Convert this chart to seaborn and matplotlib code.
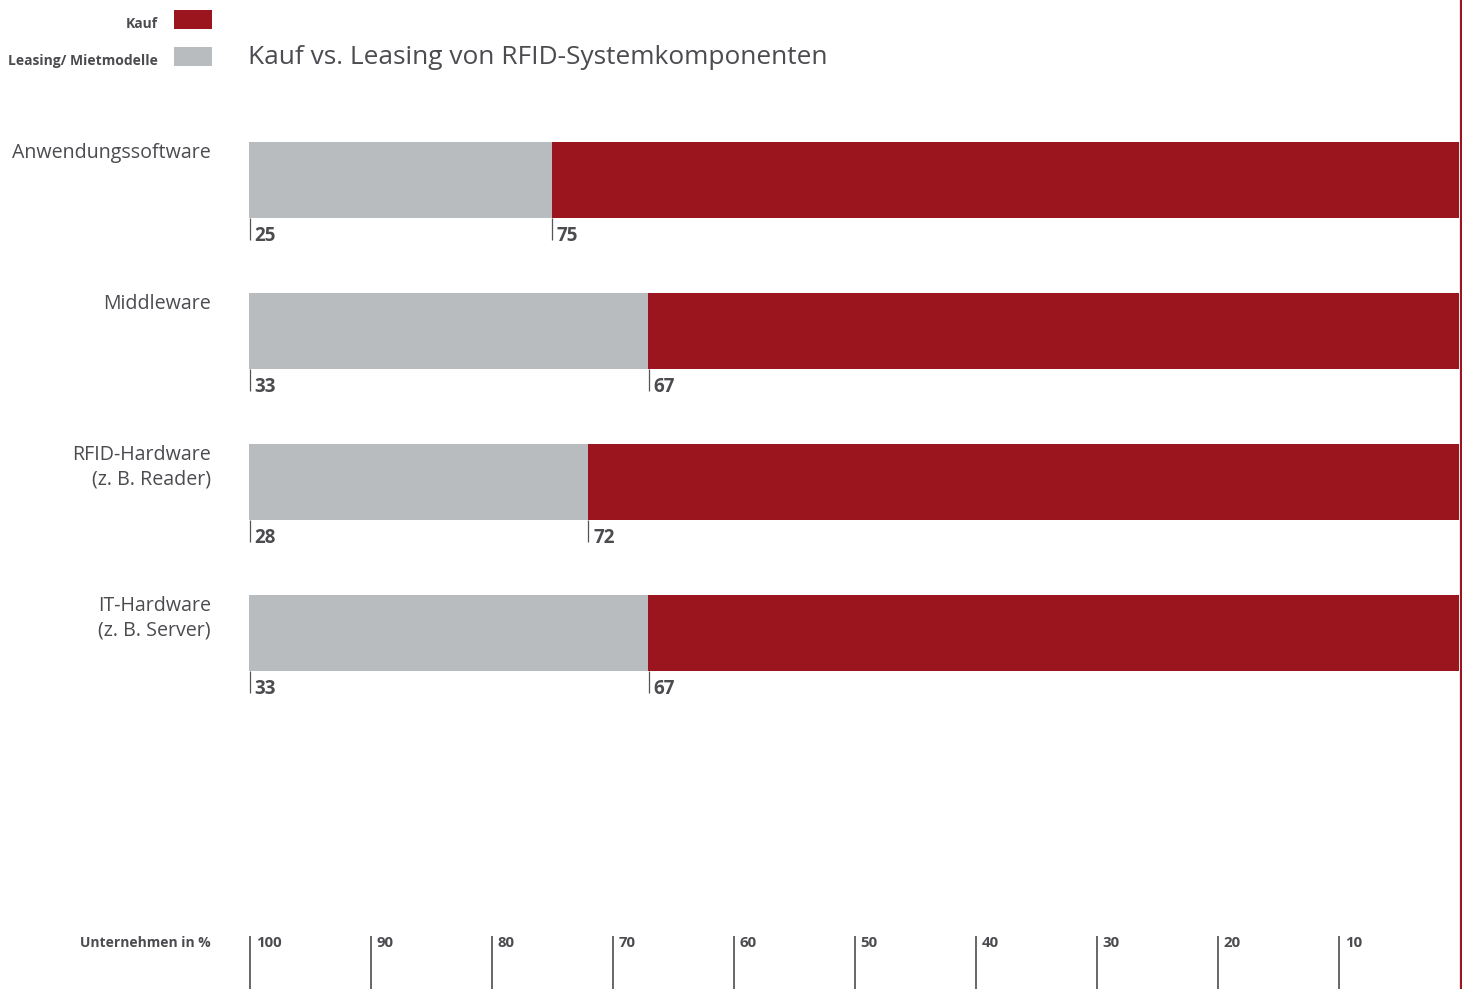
import matplotlib
matplotlib.use("Agg")
import matplotlib.pyplot as plt
import matplotlib.transforms as mtrans
import seaborn as sns
import pandas as pd

categories = ["Anwendungssoftware", "Middleware", "RFID-Hardware\n(z. B. Reader)", "IT-Hardware\n(z. B. Server)"]
leasing = [25, 33, 28, 33]
kauf = [75, 67, 72, 67]
axis_ticks = [0, 10, 20, 30, 40, 50, 60, 70, 80, 90]
axis_labels = ["100", "90", "80", "70", "60", "50", "40", "30", "20", "10"]
title = "Kauf vs. Leasing von RFID-Systemkomponenten"
legend_labels = ["Kauf", "Leasing/ Mietmodelle"]
axis_title = "Unternehmen in %"

RED = "#9b151e"
GRAY = "#b8bcbf"
TXT = "#4b4b50"

sns.set_theme(style="white")
plt.rcParams["font.family"] = ["Open Sans", "DejaVu Sans"]

W, H = 1462, 989
fig = plt.figure(figsize=(W / 100, H / 100), dpi=100)

def fx(x):
    return x / W

def fy(y):
    return 1 - y / H

# axes: x pixel 249..1459, y pixel 110..989
top_px, bot_px = 110, 989
ax = fig.add_axes([fx(249), fy(bot_px), fx(1459) - fx(249), fy(top_px) - fy(bot_px)])

df = pd.DataFrame({"cat": categories, "leasing": leasing, "kauf": kauf})
df["total"] = df["leasing"] + df["kauf"]

bw = 76 / 151
sns.barplot(data=df, x="total", y="cat", color=RED, width=bw, saturation=1, ax=ax, orient="h",
            linewidth=0, edgecolor="none")
sns.barplot(data=df, x="leasing", y="cat", color=GRAY, width=bw, saturation=1, ax=ax, orient="h",
            linewidth=0, edgecolor="none")

c0, step = 180, 151
def dy(ypx):
    return (ypx - c0) / step

ax.set_xlim(0, 100)
ax.set_ylim(dy(bot_px), dy(top_px))
ax.set_xticks([])
ax.set_yticks([])
ax.set_xlabel("")
ax.set_ylabel("")
for s in ax.spines.values():
    s.set_visible(False)
ax.patch.set_alpha(0)

# value labels under bars
for i, (l, k) in enumerate(zip(leasing, kauf)):
    ybot = i + bw / 2
    for xv, lab in [(0, l), (l, k)]:
        ax.vlines(xv + 0.05, ybot, ybot + 22 / step, color="#555555", lw=0.9)
        ax.text(xv + 0.45, ybot + 18 / step, str(lab), ha="left", va="center",
                fontsize=13.5, fontweight="bold", color=TXT)

# category labels
bt = mtrans.blended_transform_factory(fig.transFigure, ax.transData)
for i, c in enumerate(categories):
    ax.text(fx(211), i - bw / 2 + 1 / step, c, transform=bt, ha="right", va="top",
            fontsize=14.1, color=TXT, linespacing=1.28)

# bottom scale
ax.vlines([t + 0.05 for t in axis_ticks], dy(936), dy(bot_px), color="#666666", lw=1.4)
for t, lab in zip(axis_ticks, axis_labels):
    ax.text(t + 0.55, dy(943), lab, ha="left", va="center", fontsize=10.8, fontweight="bold", color=TXT)
fig.text(fx(211), fy(943), axis_title, ha="right", va="center", fontsize=10, fontweight="bold", color=TXT)

# title
fig.text(fx(248), fy(58), title, ha="left", va="center", fontsize=18.9, color=TXT)

# legend
fig.patches.append(plt.Rectangle((fx(174), fy(29)), fx(38), fy(10) - fy(29), transform=fig.transFigure,
                                 color=RED, lw=0))
fig.patches.append(plt.Rectangle((fx(174), fy(66)), fx(38), fy(47) - fy(66), transform=fig.transFigure,
                                 color=GRAY, lw=0))
fig.text(fx(158), fy(24), legend_labels[0], ha="right", va="center", fontsize=10, fontweight="bold", color=TXT)
fig.text(fx(158), fy(61), legend_labels[1], ha="right", va="center", fontsize=10, fontweight="bold", color=TXT)

# right red border line
fig.lines.append(plt.Line2D([fx(1461), fx(1461)], [0, 1], transform=fig.transFigure, color=RED, lw=1.6))

fig.savefig("out.png", dpi=100, facecolor="white")
